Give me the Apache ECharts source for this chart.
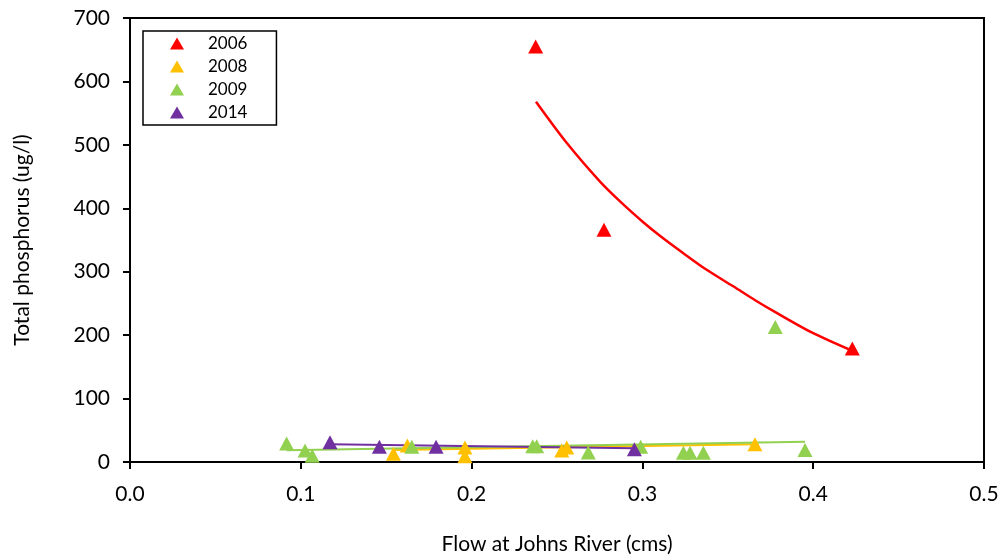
<!DOCTYPE html>
<html>
<head>
<meta charset="utf-8">
<script src="https://cdn.jsdelivr.net/npm/echarts@6/dist/echarts.min.js"></script>
<style>html,body{margin:0;padding:0;background:#fff}#c{width:1004px;height:560px}</style>
</head>
<body>
<div id="c"></div>
<script>
// Data
const seriesNames = ['2006', '2008', '2009', '2014'];
const pts2006 = [[0.2375, 655], [0.2775, 366], [0.4229, 179]];
const pts2008 = [[0.1542, 13], [0.1624, 26], [0.1961, 23], [0.1961, 9], [0.2528, 18], [0.2557, 23], [0.3659, 28]];
const pts2009 = [[0.0917, 29], [0.1025, 18], [0.1067, 10], [0.165, 24], [0.2358, 25], [0.2381, 25], [0.2683, 15], [0.299, 24], [0.324, 14.5], [0.3279, 14.5], [0.3357, 14.5], [0.3778, 213], [0.3952, 19]];
const pts2014 = [[0.1171, 31], [0.146, 24], [0.1792, 24], [0.2953, 20]];
// Trend lines
const trend2006 = [[0.2377, 568], [0.256, 502], [0.2752, 442], [0.288, 408], [0.3005, 378], [0.311, 355], [0.322, 333], [0.3376, 303], [0.3532, 277], [0.366, 255], [0.3786, 235], [0.40, 203], [0.4235, 174.5]];
const trend2008 = [[0.1542, 19], [0.3659, 28]];
const trend2009 = [[0.0917, 18.5], [0.3952, 32]];
const trend2014 = [[0.1171, 28], [0.2953, 21.5]];
const xTicks = [0, 0.1, 0.2, 0.3, 0.4, 0.5];
const yTicks = [0, 100, 200, 300, 400, 500, 600, 700];

const colors = ['#FF0000', '#FFC000', '#92D050', '#7030A0'];
const FONT = 'Lato';
const chart = echarts.init(document.getElementById('c'), null, {renderer: 'canvas'});
const pts = [pts2006, pts2008, pts2009, pts2014];
const trends = [trend2006, trend2008, trend2009, trend2014];
const series = [];
trends.forEach((t, i) => {
  series.push({
    type: 'line', data: t, showSymbol: false, smooth: i === 0 ? 0.3 : false,
    lineStyle: {color: colors[i], width: i === 0 ? 2.5 : 2}, silent: true, z: 2
  });
});
pts.forEach((p, i) => {
  series.push({
    name: seriesNames[i], type: 'scatter', data: p, symbol: 'triangle', symbolSize: [15, 14],
    itemStyle: {color: colors[i], opacity: 1}, z: 3
  });
});
chart.setOption({
  animation: false,
  backgroundColor: '#fff',
  grid: {left: 130, right: 20, top: 18, bottom: 97, show: true, borderColor: '#000', borderWidth: 2},
  legend: {
    data: seriesNames.map((n, i) => ({name: n, icon: 'triangle', itemStyle: {color: colors[i]}})),
    orient: 'vertical', left: 143, top: 31,
    itemWidth: 14, itemHeight: 12, itemGap: 6,
    padding: [4, 29, 4, 27],
    borderColor: '#000', borderWidth: 1.5, borderRadius: 0,
    textStyle: {fontFamily: FONT, fontSize: 17, color: '#000', lineHeight: 17, padding: [0, 0, 0, 19]}
  },
  xAxis: {
    type: 'value', min: xTicks[0], max: xTicks[xTicks.length - 1], interval: 0.1,
    name: 'Flow at Johns River (cms)', nameLocation: 'middle', nameGap: 72,
    nameTextStyle: {fontFamily: FONT, fontSize: 21, color: '#000'},
    axisLine: {show: true, lineStyle: {color: '#000', width: 2}},
    axisTick: {show: true, inside: false, length: 7, lineStyle: {color: '#000', width: 2}},
    axisLabel: {fontFamily: FONT, fontSize: 21, color: '#000', margin: 22, formatter: v => v.toFixed(1)},
    splitLine: {show: false}
  },
  yAxis: {
    type: 'value', min: yTicks[0], max: yTicks[yTicks.length - 1], interval: 100,
    name: 'Total phosphorus (ug/l)', nameLocation: 'middle', nameGap: 97, nameRotate: 90,
    nameTextStyle: {fontFamily: FONT, fontSize: 21, color: '#000'},
    axisLine: {show: true, lineStyle: {color: '#000', width: 2}},
    axisTick: {show: true, inside: false, length: 7, lineStyle: {color: '#000', width: 2}},
    axisLabel: {fontFamily: FONT, fontSize: 21, color: '#000', margin: 20},
    splitLine: {show: false}
  },
  series: series
});
</script>
</body>
</html>
